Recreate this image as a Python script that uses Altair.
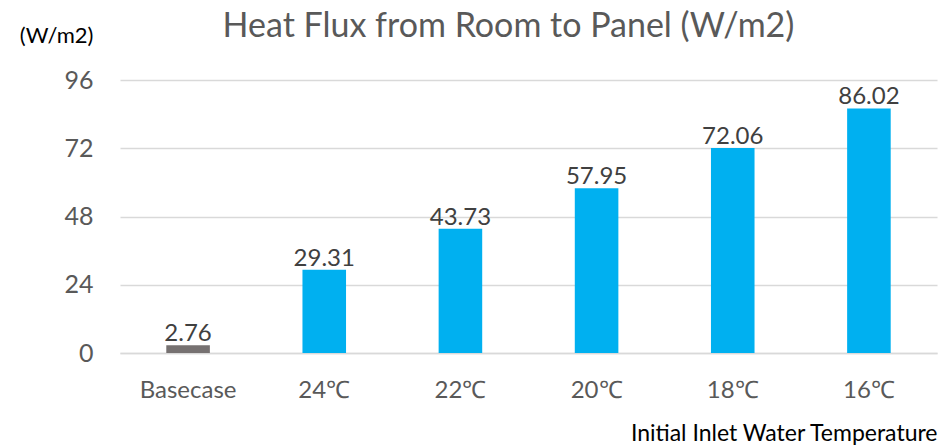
import altair as alt
import pandas as pd

# Heat flux per case
categories = ["Basecase", "24℃", "22℃", "20℃", "18℃", "16℃"]
heat_flux = [2.76, 29.31, 43.73, 57.95, 72.06, 86.02]
bar_colors = ["#767171", "#00B0F0", "#00B0F0", "#00B0F0", "#00B0F0", "#00B0F0"]
y_ticks = [0, 24, 48, 72, 96]

df = pd.DataFrame({"case": categories, "flux": heat_flux, "color": bar_colors})
df["label"] = df["flux"].map(lambda v: f"{v:.2f}")

FONT = "Lato"

x_enc = alt.X(
    "case:N",
    sort=categories,
    scale=alt.Scale(paddingInner=0.68, paddingOuter=0.34),
    axis=alt.Axis(
        title="Initial Inlet Water Temperature",
        titleAnchor="end",
        titleFont=FONT,
        titleFontSize=23,
        titleFontWeight="normal",
        titleColor="#000000",
        titlePadding=20,
        labelAngle=0,
        labelFont=FONT,
        labelFontSize=24,
        labelColor="#595959",
        labelPadding=25,
        ticks=False,
        domainColor="#d9d9d9",
        domainWidth=1.5,
    ),
)

y_enc = alt.Y(
    "flux:Q",
    scale=alt.Scale(domain=[0, 96], nice=False),
    axis=alt.Axis(
        values=y_ticks,
        title="(W/m2)",
        titleAngle=0,
        titleAlign="right",
        titleBaseline="middle",
        titleX=-27,
        titleY=-45,
        titleFont=FONT,
        titleFontSize=22,
        titleFontWeight="normal",
        titleColor="#000000",
        labelFont=FONT,
        labelFontSize=25,
        labelColor="#595959",
        labelPadding=27,
        ticks=False,
        domain=False,
        gridColor="#d9d9d9",
        gridWidth=1.5,
    ),
)

bars = alt.Chart(df).mark_bar().encode(
    x=x_enc,
    y=y_enc,
    color=alt.Color("color:N", scale=None),
)

labels = alt.Chart(df).mark_text(
    baseline="bottom", dy=1, font=FONT, fontSize=24, color="#404040"
).encode(
    x=alt.X("case:N", sort=categories),
    y=alt.Y("flux:Q"),
    text="label:N",
)

chart = (
    alt.layer(bars, labels)
    .properties(
        width=817,
        height=273,
        title=alt.TitleParams(
            "Heat Flux from Room to Panel (W/m2)",
            font=FONT,
            fontSize=34,
            fontWeight="normal",
            color="#595959",
            anchor="middle",
            dx=-20,
            offset=-20,
        ),
        autosize=alt.AutoSizeParams(type="none"),
        padding={"left": 120, "top": 80, "right": 15, "bottom": 94},
    )
    .configure_view(stroke=None)
)

chart.save("out.html", embed_options={"renderer": "svg", "actions": False})
